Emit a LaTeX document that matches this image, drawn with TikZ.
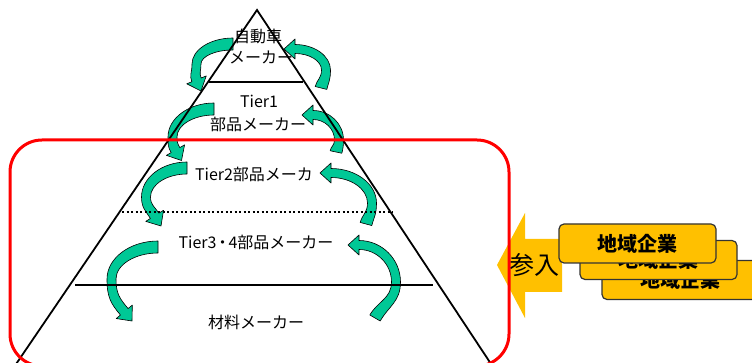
\documentclass[tikz,border=0pt]{standalone}
\usepackage{fontspec}
\newfontfamily\jp{Noto Sans CJK JP}
\definecolor{gold}{RGB}{255,192,0}
\definecolor{agreen}{RGB}{0,200,150}
\definecolor{rred}{RGB}{255,0,0}
\tikzset{
  garr/.style={fill=agreen, draw=black, line width=0.6pt, line join=round},
  jt/.style={font=\jp\fontsize{16}{18}\selectfont, inner sep=0pt},
  regbox/.style={draw=black!80, fill=gold, line width=1.2pt, rounded corners=5pt,
    minimum width=157pt, minimum height=39pt, inner sep=0pt,
    font=\jp\bfseries\fontsize{20}{22}\selectfont},
  pline/.style={line width=1.8pt, black}
}
% curved green arrow: #1,#2 start; #3,#4 extreme point of centre line; #5,#6 end; #7 end angle; #8 mode (0: head at end, 1: head at start)
\newcommand\garrcore[8]{%
  \pgfmathsetmacro\dX{cos(#7)}%
  \pgfmathsetmacro\dY{sin(#7)}%
  \pgfmathsetmacro\nX{-\dY}%
  \pgfmathsetmacro\nY{\dX}%
  \ifnum#8=0\relax
    \def\wA{6}\def\wM{4.5}\def\wB{5}%
    \pgfmathsetmacro\CAx{#1}\pgfmathsetmacro\CAy{#2}%
    \pgfmathsetmacro\CBx{#5-12*(\dX)}\pgfmathsetmacro\CBy{#6-12*(\dY)}%
  \else
    \def\wA{4.5}\def\wM{4.5}\def\wB{6}%
    \pgfmathsetmacro\CAx{#1-11}\pgfmathsetmacro\CAy{#2}%
    \pgfmathsetmacro\CBx{#5}\pgfmathsetmacro\CBy{#6}%
  \fi
  \pgfmathsetmacro\OAx{\CAx}\pgfmathsetmacro\OAy{\CAy-\wA}%
  \pgfmathsetmacro\IAx{\CAx}\pgfmathsetmacro\IAy{\CAy+\wA}%
  \pgfmathsetmacro\OMx{#3-\wM}\pgfmathsetmacro\OMy{#4}%
  \pgfmathsetmacro\IMx{#3+\wM}\pgfmathsetmacro\IMy{#4}%
  \pgfmathsetmacro\OBx{\CBx+\wB*(\nX)}\pgfmathsetmacro\OBy{\CBy+\wB*(\nY)}%
  \pgfmathsetmacro\IBx{\CBx-\wB*(\nX)}\pgfmathsetmacro\IBy{\CBy-\wB*(\nY)}%
  \pgfmathsetmacro\Oax{\OAx+0.55*(\OMx-\OAx)}%
  \pgfmathsetmacro\Oby{\OMy-0.55*(\OMy-\OAy)}%
  \pgfmathsetmacro\Ocy{\OMy+0.5*(\OBy-\OMy)}%
  \pgfmathsetmacro\Ok{0.4*veclen(\OBx-\OMx,\OBy-\OMy)}%
  \pgfmathsetmacro\Oex{\OBx-\Ok*(\dX)}\pgfmathsetmacro\Oey{\OBy-\Ok*(\dY)}%
  \pgfmathsetmacro\Iax{\IAx+0.55*(\IMx-\IAx)}%
  \pgfmathsetmacro\Iby{\IMy-0.55*(\IMy-\IAy)}%
  \pgfmathsetmacro\Icy{\IMy+0.5*(\IBy-\IMy)}%
  \pgfmathsetmacro\Ik{0.4*veclen(\IBx-\IMx,\IBy-\IMy)}%
  \pgfmathsetmacro\Iex{\IBx-\Ik*(\dX)}\pgfmathsetmacro\Iey{\IBy-\Ik*(\dY)}%
  \ifnum#8=0\relax
    \pgfmathsetmacro\WOx{\CBx+10.5*(\nX)}\pgfmathsetmacro\WOy{\CBy+10.5*(\nY)}%
    \pgfmathsetmacro\WIx{\CBx-10.5*(\nX)}\pgfmathsetmacro\WIy{\CBy-10.5*(\nY)}%
    \filldraw[garr] (\OAx,\OAy) .. controls (\Oax,\OAy) and (\OMx,\Oby) .. (\OMx,\OMy)
      .. controls (\OMx,\Ocy) and (\Oex,\Oey) .. (\OBx,\OBy) -- (\WOx,\WOy) -- (#5,#6)
      -- (\WIx,\WIy) -- (\IBx,\IBy) .. controls (\Iex,\Iey) and (\IMx,\Icy) .. (\IMx,\IMy)
      .. controls (\IMx,\Iby) and (\Iax,\IAy) .. (\IAx,\IAy) -- cycle;
  \else
    \pgfmathsetmacro\WTy{\CAy-10}\pgfmathsetmacro\WBy{\CAy+10}%
    \filldraw[garr] (#1,#2) -- (\CAx,\WTy) -- (\OAx,\OAy) .. controls (\Oax,\OAy) and (\OMx,\Oby) .. (\OMx,\OMy)
      .. controls (\OMx,\Ocy) and (\Oex,\Oey) .. (\OBx,\OBy) -- (\IBx,\IBy)
      .. controls (\Iex,\Iey) and (\IMx,\Icy) .. (\IMx,\IMy)
      .. controls (\IMx,\Iby) and (\Iax,\IAy) .. (\IAx,\IAy) -- (\CAx,\WBy) -- cycle;
  \fi
}
% left arrow: tail, leftmost centre, tip, head angle
\newcommand\larrow[7]{\garrcore{#1}{#2}{#3}{#4}{#5}{#6}{#7}{0}}
% right arrow: tip, rightmost centre, tail, mirrored tail angle
\newcommand\rarrow[7]{\begin{scope}[xscale=-1]\garrcore{-#1}{#2}{-#3}{#4}{-#5}{#6}{#7}{1}\end{scope}}

\begin{document}
\begin{tikzpicture}[x=1pt,y=-1pt]
\useasboundingbox (0,0) rectangle (752,363);
\clip (0,0) rectangle (752,363);

% green curved arrows
\larrow{233}{44}{196.5}{64}{201}{91}{68}
\larrow{214}{109}{172.5}{137}{181.5}{160.5}{60}
\larrow{187}{168}{146}{197}{161}{226}{58}
\larrow{158}{247}{111.5}{279}{132}{321}{50}
\rarrow{284}{49}{326}{70}{321}{88}{76}
\rarrow{302}{115}{339}{140}{336}{152}{78}
\rarrow{320}{173}{372}{203}{366}{224}{75}
\rarrow{348}{245}{396}{282}{375}{318}{60}

% pyramid
\coordinate (apex) at (257,10);
\coordinate (bl) at (10,373);
\coordinate (br) at (497,373);
\draw[pline, line join=miter] (bl) -- (apex) -- (br);
\coordinate (h1l) at (209,82);  \coordinate (h1r) at (303,82);
\coordinate (h3l) at (122,212); \coordinate (h3r) at (393,212);
\coordinate (h4l) at (75,285);  \coordinate (h4r) at (433,285);
\draw[pline] (h1l) -- (h1r);
\draw[line width=2pt, dash pattern=on 2pt off 2.5pt] (h3l) -- (h3r);
\draw[pline] (h4l) -- (h4r);

% labels
\node[jt] (t1a) at (258,36) {自動車};
\node[jt] (t1b) at (261,57) {メーカー};
\node[jt] (t2a) at (259,101) {Tier1};
\node[jt] (t2b) at (258,124) {部品メーカー};
\node[jt] (t3) at (254,174) {Tier2部品メーカ};
\node[jt] (t4) at (256,242) {Tier3\hspace{-2pt}・\hspace{-2pt}4部品メーカー};
\node[jt] (t5) at (256,322) {材料メーカー};

% yellow arrow
\fill[gold] (497,265) -- (525,213) -- (525,239) -- (562,239) -- (562,292) -- (525,292) -- (525,318) -- cycle;
\node[font=\jp\fontsize{25}{27}\selectfont, inner sep=0pt] (join) at (534,265) {参入};

% red frame
\draw[rred, line width=3pt, rounded corners=32pt] (10,140) rectangle (509,366);

% regional companies
\node[regbox] (b3) at (680.5,280) {地域企業};
\node[regbox] (b2) at (658.5,260) {地域企業};
\node[regbox] (b1) at (637.5,243.5) {地域企業};
\end{tikzpicture}
\end{document}
